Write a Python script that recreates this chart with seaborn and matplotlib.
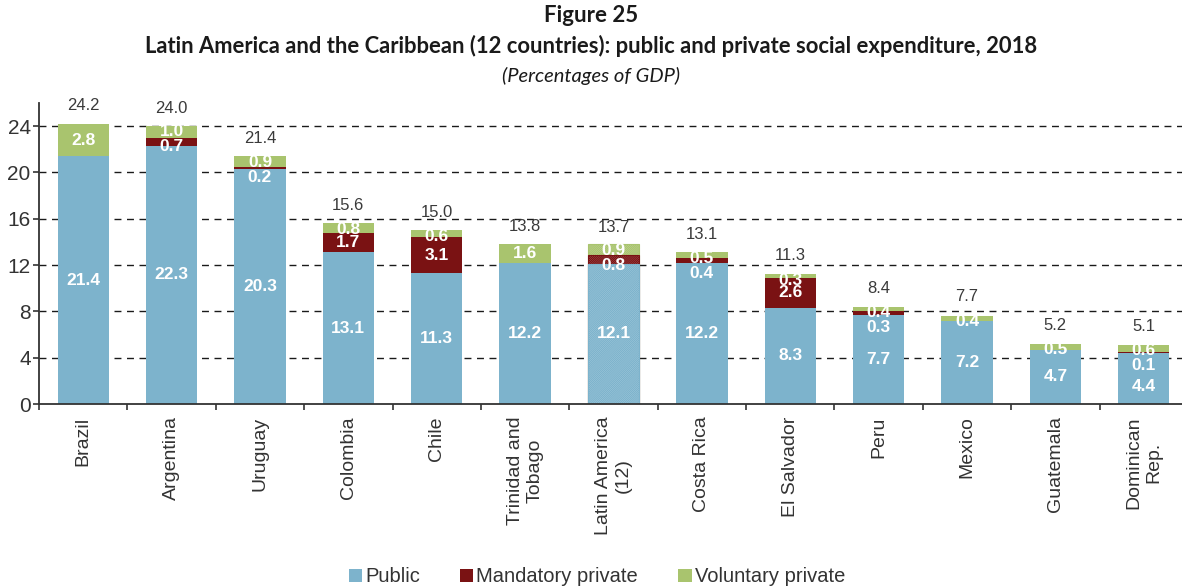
import matplotlib
matplotlib.use("Agg")
import matplotlib.pyplot as plt
import matplotlib.colors as mcolors
from matplotlib.patches import Patch
import numpy as np
import pandas as pd
import seaborn as sns

# Social expenditure as a share of GDP, 2018
countries = ["Brazil", "Argentina", "Uruguay", "Colombia", "Chile",
             "Trinidad and\nTobago", "Latin America\n(12)", "Costa Rica",
             "El Salvador", "Peru", "Mexico", "Guatemala", "Dominican\nRep."]
public = [21.4, 22.3, 20.3, 13.1, 11.3, 12.2, 12.1, 12.2, 8.3, 7.7, 7.2, 4.7, 4.4]
mandatory = [0.0, 0.7, 0.2, 1.7, 3.1, 0.0, 0.8, 0.4, 2.6, 0.3, 0.0, 0.0, 0.1]
voluntary = [2.8, 1.0, 0.9, 0.8, 0.6, 1.6, 0.9, 0.5, 0.3, 0.4, 0.4, 0.5, 0.6]
totals = [24.2, 24.0, 21.4, 15.6, 15.0, 13.8, 13.7, 13.1, 11.3, 8.4, 7.7, 5.2, 5.1]
yticks = [0, 4, 8, 12, 16, 20, 24]
regional_label = "Latin America\n(12)"

series_names = ["Public", "Mandatory private", "Voluntary private"]
C_PUB, C_MAN, C_VOL = "#7DB3CC", "#7A1213", "#A9C46E"

sns.set_theme(style="white")
plt.rcParams["font.family"] = ["Liberation Sans", "DejaVu Sans"]
plt.rcParams["hatch.linewidth"] = 0.9

df = pd.DataFrame({"country": countries, "public": public,
                   "mandatory": mandatory, "voluntary": voluntary})
df["pub_man"] = df["public"] + df["mandatory"]
df["stack"] = df["pub_man"] + df["voluntary"]

fig = plt.figure(figsize=(11.82, 5.88), dpi=100)
ax = fig.add_axes([39 / 1182, 184 / 588, 1149 / 1182, 301 / 588])

# dashed reference lines behind the bars
for t in yticks[1:]:
    ax.axhline(t, color="#1a1a1a", lw=1.0, ls=(0, (5, 4)), zorder=0)

bar_w = 0.58
reg_idx = countries.index(regional_label)
# draw cumulative layers from the tallest down so each segment shows
for col, color in [("stack", C_VOL), ("pub_man", C_MAN), ("public", C_PUB)]:
    sns.barplot(data=df, x="country", y=col, color=color, saturation=1,
                width=bar_w, errorbar=None, linewidth=0, ax=ax, zorder=2)
    patch = ax.containers[-1].patches[reg_idx]
    light = np.array(mcolors.to_rgb(color)) * 0.45 + 0.55
    patch.set_facecolor(light)
    patch.set_edgecolor(color)
    patch.set_linewidth(0.8)
    patch.set_hatch("/" * 16)

# value labels inside the segments
lab_kw = dict(ha="center", va="center", color="white", fontsize=12.5,
              fontweight="bold", zorder=5)
for i in range(len(countries)):
    p, m, v = public[i], mandatory[i], voluntary[i]
    top = p + m + v
    lowest = None
    if v > 0:
        vy = p + m + v / 2 if v >= 1.2 else top - 0.5
        ax.text(i, vy, f"{v:.1f}", **lab_kw)
        lowest = vy
    if m > 0:
        my = p + m / 2 if m >= 1 else (lowest if lowest is not None else top) - 1.3
        ax.text(i, my, f"{m:.1f}", **lab_kw)
        lowest = my
    py = p / 2
    if lowest is not None:
        py = min(py, lowest - 1.8)
    ax.text(i, py, f"{p:.1f}", **lab_kw)
    ax.annotate(f"{totals[i]:.1f}", (i, totals[i]), xytext=(0, 13),
                textcoords="offset points", ha="center", va="center",
                fontsize=12, color="#3a3a3a", zorder=5)

ax.set_xlim(-0.5, len(countries) - 0.5)
ax.set_ylim(0, 26)
ax.set_yticks(yticks)
ax.set_xlabel("")
ax.set_ylabel("")
for s in ["top", "right"]:
    ax.spines[s].set_visible(False)
for s in ["left", "bottom"]:
    ax.spines[s].set_color("#333333")
    ax.spines[s].set_linewidth(1.3)

ax.set_xticks(range(len(countries)))
ax.set_xticklabels(countries, rotation=90, ha="center", va="top",
                   multialignment="center", fontsize=14, color="#333333")
ax.set_xticks(np.arange(-0.5, len(countries), 1.0), minor=True)
ax.tick_params(axis="x", which="major", length=0, pad=9)
ax.tick_params(axis="x", which="minor", length=4, width=1.2, color="#333333",
               direction="out", bottom=True)
ax.tick_params(axis="y", length=4, width=1.2, color="#333333", direction="out",
               labelsize=15, labelcolor="#333333", pad=2, left=True)

fig.text(0.5, 1 - 16 / 588, "Figure 25", ha="center", va="center",
         fontsize=16, fontweight="bold", color="#1a1a1a", family="Lato")
fig.text(0.5, 1 - 46 / 588,
         "Latin America and the Caribbean (12 countries): public and private social expenditure, 2018",
         ha="center", va="center", fontsize=15.8, fontweight="bold",
         color="#1a1a1a", family="Lato")
fig.text(0.5, 1 - 76 / 588, "(Percentages of GDP)", ha="center", va="center",
         fontsize=14.5, style="italic", color="#1a1a1a", family="Lato")

handles = [Patch(facecolor=c, edgecolor="none") for c in (C_PUB, C_MAN, C_VOL)]
fig.legend(handles, series_names, loc="center", bbox_to_anchor=(0.505, 11 / 588),
           ncol=3, frameon=False, fontsize=14.5, handlelength=0.66,
           handleheight=0.66, handletextpad=0.15, columnspacing=2.0,
           labelcolor="#333333")

fig.savefig("out.png", dpi=100)
